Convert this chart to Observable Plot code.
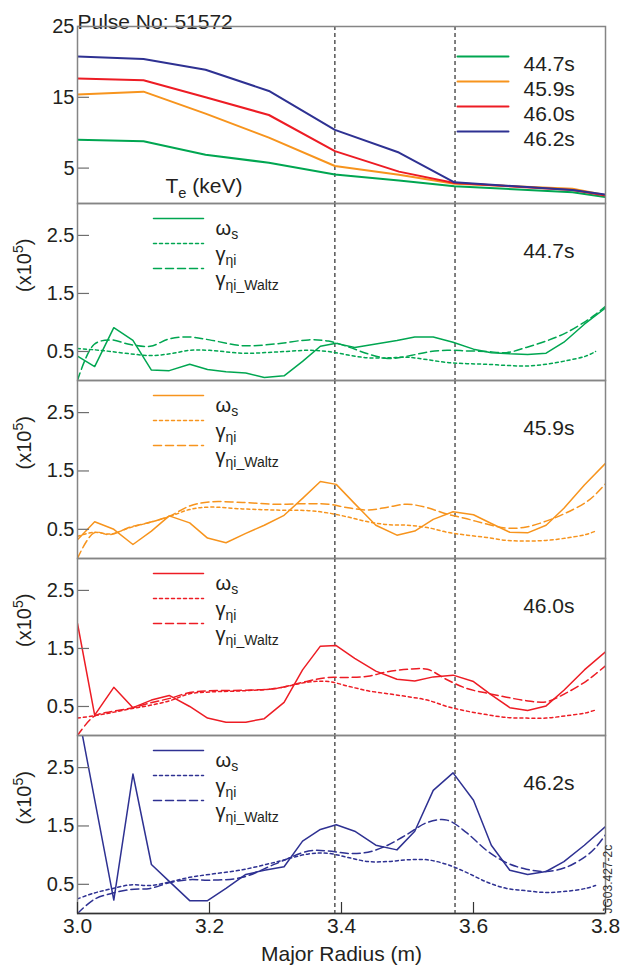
<!DOCTYPE html>
<html>
<head>
<meta charset="utf-8">
<script src="https://cdn.jsdelivr.net/npm/d3@7"></script>
<script src="https://cdn.jsdelivr.net/npm/@observablehq/plot@0.6"></script>
<style>
  html, body { margin: 0; padding: 0; background: #fff; }
  #chart { width: 632px; }
  #chart svg { display: block; overflow: visible; background: transparent; }
</style>
</head>
<body>
<div id="chart"></div>
<script>
// ---------- data ----------
const pulseTitle = "Pulse No: 51572";
const times = ["44.7s", "45.9s", "46.0s", "46.2s"];
const colors = ["#00a651", "#f7941d", "#ed1c24", "#2e3192"];

// electron temperature profiles (keV)
const R_te   = [3.000, 3.100, 3.194, 3.290, 3.390, 3.487, 3.571, 3.750, 3.800];
const te_447 = [9.0, 8.8, 6.9, 5.75, 4.1, 3.25, 2.45, 1.6, 0.9];
const te_459 = [15.4, 15.8, 12.7, 9.3, 5.3, 4.05, 2.8, 2.1, 1.2];
const te_460 = [17.65, 17.4, 15.0, 12.5, 7.4, 4.5, 2.9, 1.9, 1.13];
const te_462 = [20.76, 20.4, 18.9, 15.9, 10.4, 7.2, 3.0, 1.9, 1.27];

// omega_s (x1e5)
const R_omega = [3.000, 3.026, 3.055, 3.084, 3.112, 3.139, 3.170, 3.197, 3.225, 3.255,
                 3.283, 3.313, 3.341, 3.368, 3.392, 3.420, 3.452, 3.484, 3.511, 3.539,
                 3.569, 3.600, 3.627, 3.655, 3.682, 3.710, 3.737, 3.768, 3.800];
const omega_447 = [0.42, 0.24, 0.91, 0.69, 0.18, 0.17, 0.28, 0.19, 0.15, 0.13,
                   0.05, 0.08, 0.33, 0.59, 0.64, 0.57, 0.63, 0.69, 0.75, 0.75,
                   0.66, 0.54, 0.48, 0.46, 0.45, 0.47, 0.66, 0.97, 1.25];
const omega_459 = [0.32, 0.63, 0.50, 0.24, 0.47, 0.73, 0.61, 0.35, 0.27, 0.43,
                   0.57, 0.74, 1.03, 1.32, 1.27, 0.94, 0.57, 0.40, 0.47, 0.67,
                   0.80, 0.75, 0.60, 0.45, 0.44, 0.57, 0.86, 1.26, 1.63];
const omega_460 = [1.93, 0.35, 0.83, 0.48, 0.61, 0.69, 0.50, 0.30, 0.23, 0.23,
                   0.29, 0.57, 1.13, 1.54, 1.55, 1.33, 1.11, 0.97, 0.94, 1.01,
                   1.04, 0.93, 0.70, 0.48, 0.43, 0.51, 0.78, 1.13, 1.44];
const omega_462 = [3.5, 1.95, 0.23, 2.39, 0.84, 0.55, 0.22, 0.22, 0.43, 0.67,
                   0.74, 0.80, 1.24, 1.44, 1.52, 1.41, 1.17, 1.09, 1.41, 2.11,
                   2.41, 1.94, 1.17, 0.74, 0.67, 0.72, 0.89, 1.17, 1.49];

// growth rates gamma_eta_i and gamma_eta_i_Waltz (x1e5)
const R_gamma = [3.000, 3.025, 3.050, 3.080, 3.110, 3.140, 3.170, 3.200, 3.250, 3.300,
                 3.350, 3.380, 3.410, 3.440, 3.470, 3.500, 3.530, 3.560, 3.590, 3.620,
                 3.650, 3.680, 3.710, 3.740, 3.770, 3.785, 3.800];
const gamma_447 = [0.55, 0.53, 0.50, 0.46, 0.43, 0.46, 0.52, 0.52, 0.47, 0.49,
                   0.52, 0.50, 0.44, 0.39, 0.39, 0.40, 0.36, 0.31, 0.29, 0.28,
                   0.26, 0.25, 0.28, 0.34, 0.42, 0.50, null];
const waltz_447 = [0.00, 0.62, 0.70, 0.62, 0.59, 0.72, 0.75, 0.70, 0.60, 0.63,
                   0.70, 0.68, 0.58, 0.46, 0.38, 0.42, 0.49, 0.52, 0.51, 0.50,
                   0.48, 0.57, 0.68, 0.82, 1.02, 1.14, 1.28];
const gamma_459 = [0.38, 0.45, 0.42, 0.53, 0.62, 0.72, 0.84, 0.88, 0.85, 0.83,
                   0.82, 0.78, 0.71, 0.63, 0.58, 0.57, 0.53, 0.45, 0.40, 0.36,
                   0.31, 0.30, 0.31, 0.35, 0.41, 0.47, null];
const waltz_459 = [0.00, 0.44, 0.41, 0.54, 0.62, 0.73, 0.90, 0.97, 0.96, 0.93,
                   0.94, 0.93, 0.87, 0.83, 0.88, 0.93, 0.87, 0.76, 0.68, 0.59,
                   0.52, 0.54, 0.64, 0.78, 0.96, 1.10, 1.28];
const gamma_460 = [0.30, 0.34, 0.39, 0.46, 0.52, 0.60, 0.72, 0.75, 0.77, 0.81,
                   0.92, 0.93, 0.85, 0.77, 0.72, 0.67, 0.61, 0.50, 0.42, 0.36,
                   0.31, 0.30, 0.30, 0.34, 0.39, 0.44, null];
const waltz_460 = [0.00, 0.33, 0.41, 0.47, 0.56, 0.64, 0.74, 0.77, 0.78, 0.81,
                   0.94, 1.00, 1.00, 1.02, 1.10, 1.14, 1.14, 0.96, 0.81, 0.73,
                   0.66, 0.60, 0.58, 0.73, 0.93, 1.06, 1.20];
const gamma_462 = [0.25, 0.35, 0.42, 0.49, 0.48, 0.54, 0.62, 0.67, 0.75, 0.88,
                   1.02, 1.03, 0.96, 0.89, 0.89, 0.92, 0.92, 0.84, 0.70, 0.54,
                   0.43, 0.39, 0.36, 0.38, 0.43, 0.48, null];
const waltz_462 = [0.00, 0.24, 0.34, 0.41, 0.43, 0.53, 0.58, 0.57, 0.62, 0.85,
                   1.07, 1.07, 1.03, 1.05, 1.17, 1.36, 1.56, 1.60, 1.38, 1.08,
                   0.87, 0.76, 0.72, 0.79, 0.98, 1.13, 1.35];

// vertical reference radii, ticks, labels
const markerR = [3.39, 3.572];
const teTicks = [5, 15, 25];
const rateTicks = [0.5, 1.5, 2.5];
const xTicks = [3.0, 3.2, 3.4, 3.6, 3.8];
const teLabel = "T_{e} (keV)";
const rateLabel = "(x10^{5})";
const xLabel = "Major Radius (m)";
const seriesLabels = ["ω_{s}", "γ_{ηi}", "γ_{ηi_Waltz}"];
const figureId = "JG03.427-2c";

const teSeries = [te_447, te_459, te_460, te_462];
const omegaSeries = [omega_447, omega_459, omega_460, omega_462];
const gammaSeries = [gamma_447, gamma_459, gamma_460, gamma_462];
const waltzSeries = [waltz_447, waltz_459, waltz_460, waltz_462];

// ---------- styling ----------
const FONT = "'Liberation Sans', Arial, Helvetica, sans-serif";
const INK = "#231f20";
const FRAME = "#858585";
const W = 632, ML = 77, MR = 27;
const DOT = "3,3", DASH = "8,4";
const lineShape = {draw(ctx, l) { ctx.moveTo(0, 0); ctx.lineTo(0, -l); }};

function legendLine(dx, dy, len, stroke, dash, width) {
  return Plot.vector([0], {
    frameAnchor: "top-left", dx, dy, length: len, rotate: 90, anchor: "start",
    shape: lineShape, stroke, strokeWidth: width, strokeDasharray: dash
  });
}
function label(txt, o) {
  return Plot.text([txt], {text: d => d, fill: INK, ...o});
}
function yAxes(ticks) {
  return [
    Plot.axisY(ticks, {tickSize: 0, tickPadding: 3, fontSize: 20, fill: INK, label: null}),
    Plot.axisY(ticks, {tickSize: 12, dx: 12, stroke: "#6e6e6e", strokeWidth: 1.2, fill: "none", label: null})
  ];
}
const refLines = () => Plot.ruleX(markerR, {stroke: "#000", strokeWidth: 1, strokeDasharray: "4,3"});

function richText(svg) {
  const NS = "http://www.w3.org/2000/svg";
  svg.querySelectorAll("text").forEach(t => {
    const s = t.textContent;
    if (!/[_^]\{/.test(s)) return;
    const parts = [];
    const re = /([_^])\{([^}]*)\}/g;
    let last = 0, m;
    while ((m = re.exec(s))) {
      if (m.index > last) parts.push({t: s.slice(last, m.index), k: 0});
      parts.push({t: m[2], k: m[1] === "_" ? 1 : 2});
      last = re.lastIndex;
    }
    if (last < s.length) parts.push({t: s.slice(last), k: 0});
    t.textContent = "";
    let off = 0;
    for (const p of parts) {
      const ts = document.createElementNS(NS, "tspan");
      ts.textContent = p.t;
      if (p.k === 0) {
        if (off) ts.setAttribute("dy", `${-off}em`);
        off = 0;
      } else {
        const target = p.k === 1 ? 0.22 : -0.38;
        ts.setAttribute("font-size", "70%");
        ts.setAttribute("dy", `${((target - off) / 0.7).toFixed(3)}em`);
        off = target;
      }
      t.appendChild(ts);
    }
  });
  return svg;
}

const baseStyle = {fontFamily: FONT, color: INK, background: "transparent", overflow: "visible"};
const chart = document.getElementById("chart");

// ---------- top panel: Te ----------
{
  const marks = [
    refLines(),
    ...teSeries.map((v, i) => Plot.line(v, {x: R_te, y: v, stroke: colors[i], strokeWidth: 2, clip: true})),
    ...times.map((t, i) => legendLine(380, 30 + 25 * i, 51, colors[i], null, 2)),
    ...times.map((t, i) => label(t, {frameAnchor: "top-left", dx: 446, dy: 30 + 25 * i, textAnchor: "start", fontSize: 21})),
    label(teLabel, {frameAnchor: "top-left", dx: 88, dy: 152, textAnchor: "start", fontSize: 21}),
    label(pulseTitle, {frameAnchor: "top-left", dx: 0, dy: -12, textAnchor: "start", fontSize: 21}),
    ...yAxes(teTicks),
    Plot.frame({stroke: FRAME, strokeWidth: 1.5})
  ];
  const svg = Plot.plot({
    width: W, height: 203, marginLeft: ML, marginRight: MR, marginTop: 26, marginBottom: 0,
    style: baseStyle,
    x: {domain: [3.0, 3.8], axis: null},
    y: {domain: [0, 25], axis: null},
    marks
  });
  chart.appendChild(richText(svg));
}

// ---------- four rate panels ----------
const heights = [177, 178, 177, 234];
times.forEach((t, k) => {
  const c = colors[k];
  const last = k === 3;
  const marks = [
    refLines(),
    Plot.line(gammaSeries[k], {x: R_gamma, y: gammaSeries[k], stroke: c, strokeWidth: 1.5, strokeDasharray: DOT, curve: "catmull-rom", clip: true}),
    Plot.line(waltzSeries[k], {x: R_gamma, y: waltzSeries[k], stroke: c, strokeWidth: 1.5, strokeDasharray: DASH, curve: "catmull-rom", clip: true}),
    Plot.line(omegaSeries[k], {x: R_omega, y: omegaSeries[k], stroke: c, strokeWidth: 1.5, clip: true}),
    legendLine(76, 15, 50, c, null, 1.5),
    legendLine(76, 40, 50, c, DOT, 1.5),
    legendLine(76, 65, 50, c, DASH, 1.5),
    label(seriesLabels[0], {frameAnchor: "top-left", dx: 138, dy: 17, textAnchor: "start", fontSize: 20}),
    label(seriesLabels[1], {frameAnchor: "top-left", dx: 138, dy: 43, textAnchor: "start", fontSize: 20}),
    label(seriesLabels[2], {frameAnchor: "top-left", dx: 138, dy: 68, textAnchor: "start", fontSize: 20}),
    label(t, {frameAnchor: "top-right", dx: -31, dy: 40, textAnchor: "end", fontSize: 21}),
    label(rateLabel, {frameAnchor: "left", dx: -53, rotate: -90, fontSize: 20}),
    ...yAxes(rateTicks),
    Plot.frame({stroke: FRAME, strokeWidth: 1.5})
  ];
  if (last) {
    marks.push(
      Plot.ruleY([0], {stroke: "#333", strokeWidth: 1.5}),
      Plot.axisX(xTicks, {anchor: "bottom", tickSize: 0, tickPadding: 5, fontSize: 21, fill: INK, label: null, tickFormat: d3.format(".1f")}),
      Plot.axisX(xTicks, {anchor: "bottom", tickSize: 11, dy: -11, stroke: "#333", strokeWidth: 1.2, fill: "none", label: null}),
      label(xLabel, {frameAnchor: "bottom", dy: 47, fontSize: 21}),
      label(figureId, {frameAnchor: "bottom-right", dx: 6, rotate: -90, textAnchor: "start", fontSize: 12, fill: "#333"})
    );
  }
  const svg = Plot.plot({
    width: W, height: heights[k], marginLeft: ML, marginRight: MR, marginTop: 0,
    marginBottom: last ? 56 : 0,
    style: baseStyle,
    x: {domain: [3.0, 3.8], ...(last ? {} : {axis: null})},
    y: {domain: [0, 3.05], axis: null},
    marks
  });
  chart.appendChild(richText(svg));
});
</script>
</body>
</html>
